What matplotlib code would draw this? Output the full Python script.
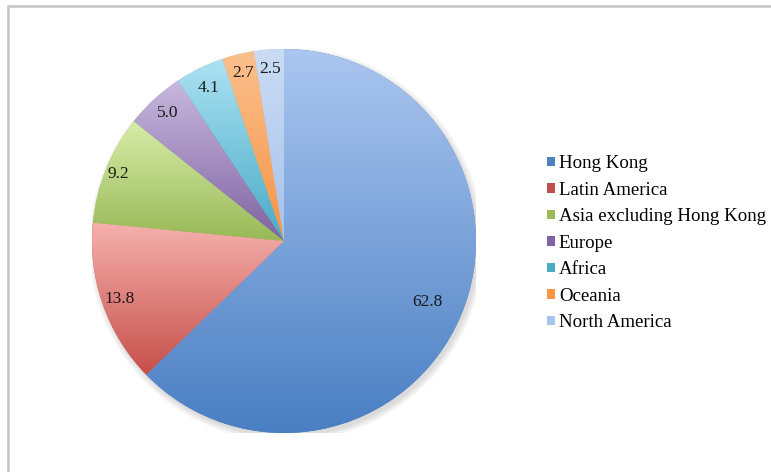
import numpy as np
import matplotlib.pyplot as plt
from matplotlib.patches import Rectangle, Patch, Circle
import matplotlib.colors as mcolors

regions = ['Hong Kong', 'Latin America', 'Asia excluding Hong Kong', 'Europe',
           'Africa', 'Oceania', 'North America']
shares = [62.8, 13.8, 9.2, 5.0, 4.1, 2.7, 2.5]
value_labels = ['62.8', '13.8', '9.2', '5.0', '4.1', '2.7', '2.5']

# light top -> darker bottom for each slice, plain colour for legend keys
top_cols = ['#abc6f0', '#f6b1ad', '#d7eca8', '#c8b8de', '#abe2f3', '#fbc08e', '#cadcf4']
bot_cols = ['#4a7fc3', '#c64f4a', '#98b956', '#7f63a1', '#48aac5', '#f59444', '#a6c2ea']
key_cols = ['#4f81bd', '#c0504d', '#9bbb59', '#8064a2', '#4bacc6', '#f79646', '#a7c4eb']
label_dist = [0.81, 0.91, 0.93, 0.9, 0.89, 0.9, 0.9]

plt.rcParams['font.family'] = ['Liberation Serif', 'DejaVu Serif']

W, H = 771, 472
fig = plt.figure(figsize=(W/100, H/100), dpi=100)
fig.patch.set_facecolor('white')

# chart frame (only left/top edges visible)
fig.patches.append(Rectangle((8/W, -0.1), 1.2, 1 - 6/H + 0.1, transform=fig.transFigure,
                             facecolor='none', edgecolor='#c4c4c4', lw=1.8))

cx, cy, r = 284, 241, 192
ax = fig.add_axes([(cx - r)/W, (H - cy - r)/H, 2*r/W, 2*r/H])
ax.axis('off')

# soft drop shadow
for k in range(6):
    ax.add_patch(Circle((0.012, -0.018), 1.0 + 0.006*k, facecolor='#000000',
                        alpha=0.025, lw=0, zorder=0))

wedges, _ = ax.pie(shares, startangle=90, counterclock=False, radius=1,
                   colors=key_cols, wedgeprops=dict(lw=0))

for w, c0, c1 in zip(wedges, top_cols, bot_cols):
    w.set_zorder(1)
    ext = w.get_path().get_extents(w.get_patch_transform())
    cmap = mcolors.LinearSegmentedColormap.from_list('g', [c1, c0])
    grad = np.linspace(0, 1, 256).reshape(-1, 1)
    im = ax.imshow(grad, cmap=cmap, origin='lower', aspect='auto',
                   extent=[ext.x0, ext.x1, ext.y0, ext.y1], zorder=2)
    im.set_clip_path(w)

ax.set_xlim(-1, 1)
ax.set_ylim(-1, 1)
ax.set_aspect('equal')

for w, lab, d in zip(wedges, value_labels, label_dist):
    a = np.deg2rad((w.theta1 + w.theta2) / 2)
    ax.text(d*np.cos(a), d*np.sin(a), lab, ha='center', va='center',
            fontsize=12.5, color='#1a1a1a', zorder=5)

handles = [Patch(facecolor=c, edgecolor='none') for c in key_cols]
fig.legend(handles, regions, loc='upper left', bbox_to_anchor=(538/W, 1 - 146/H),
           frameon=False, fontsize=13.6, handlelength=0.4, handleheight=0.4,
           handletextpad=0.2, labelspacing=0.5, borderpad=0)

fig.savefig('out.png', dpi=100)
